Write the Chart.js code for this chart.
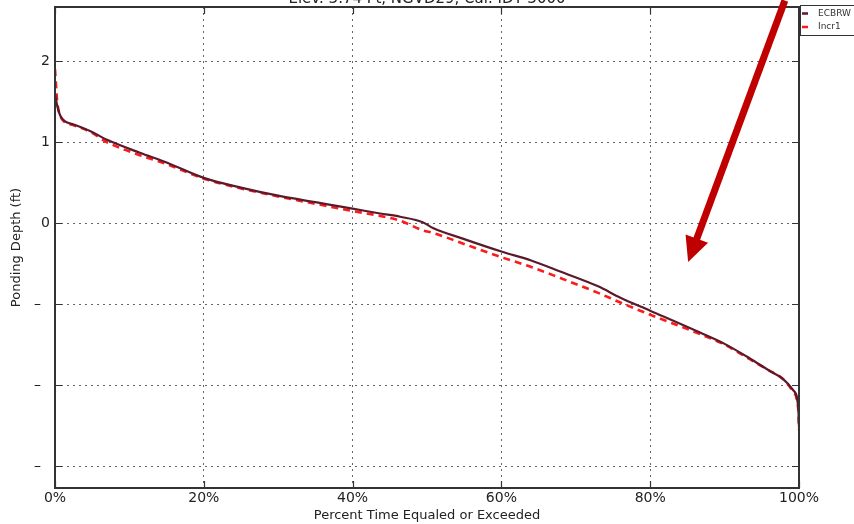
<!DOCTYPE html>
<html>
<head>
<meta charset="utf-8">
<script src="https://cdn.jsdelivr.net/npm/chart.js@4"></script>
<style>
html,body{margin:0;padding:0;background:#fff;}
#wrap{width:854px;height:524px;position:relative;}
</style>
</head>
<body>
<div id="wrap"><canvas id="c" width="854" height="524"></canvas></div>
<script>
// ---- data ----
const titleText = "Elev. 3.74 Ft, NGVD29, Cal. IDT 3000";
const xTitle = "Percent Time Equaled or Exceeded";
const yTitle = "Ponding Depth (ft)";
const seriesNames = ["ECBRW", "Incr1"];
const xPct = [0, 0.3, 0.7, 1.3, 2.5, 4.7, 7, 11.4, 15, 20, 25, 30, 35, 40, 43.7, 46.4, 49.5, 50.8, 54.8, 60, 64, 68, 73, 76, 80, 86.7, 90, 93.4, 96, 97.8, 99.2, 99.9, 100];
const ecbrw = [1.6, 1.45, 1.33, 1.26, 1.22, 1.14, 1.03, 0.87, 0.75, 0.56, 0.44, 0.34, 0.26, 0.18, 0.12, 0.08, 0.01, -0.06, -0.19, -0.35, -0.46, -0.60, -0.78, -0.92, -1.08, -1.35, -1.49, -1.67, -1.82, -1.92, -2.06, -2.27, -2.52];
const incr1 = [1.9, 1.5, 1.33, 1.25, 1.21, 1.13, 1.0, 0.84, 0.73, 0.55, 0.43, 0.33, 0.24, 0.15, 0.09, 0.03, -0.09, -0.12, -0.25, -0.42, -0.54, -0.68, -0.86, -0.98, -1.13, -1.37, -1.50, -1.68, -1.82, -1.92, -2.08, -2.30, -2.55];
const xTickValues = [0, 20, 40, 60, 80, 100];
const xTickLabels = ["0%", "20%", "40%", "60%", "80%", "100%"];
const yTickValues = [-3, -2, -1, 0, 1, 2];
const yTickLabels = ["\u2013\u2007", "\u2013\u2007", "\u2013\u2007", "0", "1", "2"];
const arrowFrom = {x: 98.1, y: 2.75};
const arrowTo = {x: 85.1, y: -0.48};

const pts = (ys) => xPct.map((x, i) => ({x: x, y: ys[i]}));
const FONT = "'DejaVu Sans', sans-serif";
const colDark = "#5a1a2c";
const colRed = "#ff1a1a";

const extras = {
  id: 'extras',
  afterDatasetsDraw(chart) {
    const {ctx, chartArea: a, scales: {x, y}} = chart;
    ctx.save();
    ctx.strokeStyle = '#333';
    ctx.lineWidth = 1.2;
    const tl = 7;
    ctx.beginPath();
    yTickValues.forEach(v => {
      const py = Math.round(y.getPixelForValue(v)) + 0.5;
      ctx.moveTo(a.left, py); ctx.lineTo(a.left + tl, py);
      ctx.moveTo(a.right, py); ctx.lineTo(a.right - tl, py);
    });
    xTickValues.forEach(v => {
      const px = Math.round(x.getPixelForValue(v)) + 0.5;
      ctx.moveTo(px, a.top); ctx.lineTo(px, a.top + tl);
      ctx.moveTo(px, a.bottom); ctx.lineTo(px, a.bottom - tl);
    });
    ctx.stroke();
    ctx.strokeStyle = '#333';
    ctx.lineWidth = 2;
    ctx.strokeRect(a.left, a.top, a.right - a.left, a.bottom - a.top);
    ctx.restore();
  },
  afterDraw(chart) {
    const {ctx, chartArea: a, scales: {x, y}} = chart;
    ctx.save();
    ctx.fillStyle = '#222';
    ctx.font = "15px " + FONT;
    ctx.textAlign = 'center';
    ctx.textBaseline = 'alphabetic';
    ctx.fillText(titleText, (a.left + a.right) / 2, 3);
    // legend
    const lx = a.right + 1, ly = 5, lw = 70, lh = 30;
    ctx.fillStyle = '#fff';
    ctx.fillRect(lx, ly, lw, lh);
    ctx.strokeStyle = '#333';
    ctx.lineWidth = 1;
    ctx.strokeRect(lx + 0.5, ly + 0.5, lw, lh);
    ctx.font = "9px " + FONT;
    ctx.textAlign = 'left';
    ctx.textBaseline = 'middle';
    const items = [[seriesNames[0], colDark], [seriesNames[1], colRed]];
    items.forEach((it, i) => {
      const yy = ly + 8.5 + i * 13.5;
      ctx.strokeStyle = it[1];
      ctx.lineWidth = 2.5;
      ctx.beginPath(); ctx.moveTo(lx + 2, yy); ctx.lineTo(lx + 8, yy); ctx.stroke();
      ctx.fillStyle = '#333';
      ctx.fillText(it[0], lx + 18, yy);
    });
    // annotation arrow
    const x0 = x.getPixelForValue(arrowFrom.x), y0 = y.getPixelForValue(arrowFrom.y);
    const x1 = x.getPixelForValue(arrowTo.x), y1 = y.getPixelForValue(arrowTo.y);
    const ang = Math.atan2(y1 - y0, x1 - x0);
    const hl = 25, hw = 12;
    const bx = x1 - hl * Math.cos(ang), by = y1 - hl * Math.sin(ang);
    ctx.strokeStyle = '#c00000';
    ctx.fillStyle = '#c00000';
    ctx.lineWidth = 7;
    ctx.beginPath(); ctx.moveTo(x0, y0); ctx.lineTo(bx + 2 * Math.cos(ang), by + 2 * Math.sin(ang)); ctx.stroke();
    ctx.beginPath();
    ctx.moveTo(x1, y1);
    ctx.lineTo(bx + hw * Math.sin(ang), by - hw * Math.cos(ang));
    ctx.lineTo(bx - hw * Math.sin(ang), by + hw * Math.cos(ang));
    ctx.closePath(); ctx.fill();
    ctx.restore();
  }
};

new Chart(document.getElementById('c'), {
  type: 'line',
  data: {
    datasets: [
      {label: seriesNames[0], data: pts(ecbrw), borderColor: colDark, borderWidth: 2.2, pointRadius: 0, cubicInterpolationMode: 'monotone', fill: false},
      {label: seriesNames[1], data: pts(incr1), borderColor: colRed, borderWidth: 2.6, borderDash: [7, 5], pointRadius: 0, cubicInterpolationMode: 'monotone', fill: false}
    ]
  },
  options: {
    responsive: false,
    animation: false,
    layout: {padding: {left: 0, right: 55, top: 7, bottom: 0}},
    plugins: {legend: {display: false}, tooltip: {enabled: false}, title: {display: false}},
    scales: {
      x: {
        type: 'linear', min: 0, max: 100,
        afterBuildTicks: s => { s.ticks = xTickValues.map(v => ({value: v})); },
        afterFit: s => { s.height = 36; s.paddingLeft = 0; s.paddingRight = 0; },
        ticks: {font: {family: FONT, size: 14}, color: '#222', padding: 2, maxRotation: 0,
          callback: (v) => xTickLabels[xTickValues.indexOf(v)]},
        grid: {color: '#666', lineWidth: 1, drawTicks: false},
        border: {display: false, dash: [2, 4]},
        title: {display: true, text: xTitle, font: {family: FONT, size: 13}, color: '#222', padding: {top: 0, bottom: 1}}
      },
      y: {
        type: 'linear', min: -3.27, max: 2.67,
        afterBuildTicks: s => { s.ticks = yTickValues.map(v => ({value: v})); },
        afterFit: s => { s.width = 55; s.paddingTop = 0; s.paddingBottom = 0; },
        ticks: {font: {family: FONT, size: 14}, color: '#222', padding: 5,
          callback: (v) => yTickLabels[yTickValues.indexOf(v)]},
        grid: {color: '#666', lineWidth: 1, drawTicks: false},
        border: {display: false, dash: [2, 4]},
        title: {display: true, text: yTitle, font: {family: FONT, size: 13}, color: '#222', padding: {top: 9, bottom: 0}}
      }
    }
  },
  plugins: [extras]
});
</script>
</body>
</html>
